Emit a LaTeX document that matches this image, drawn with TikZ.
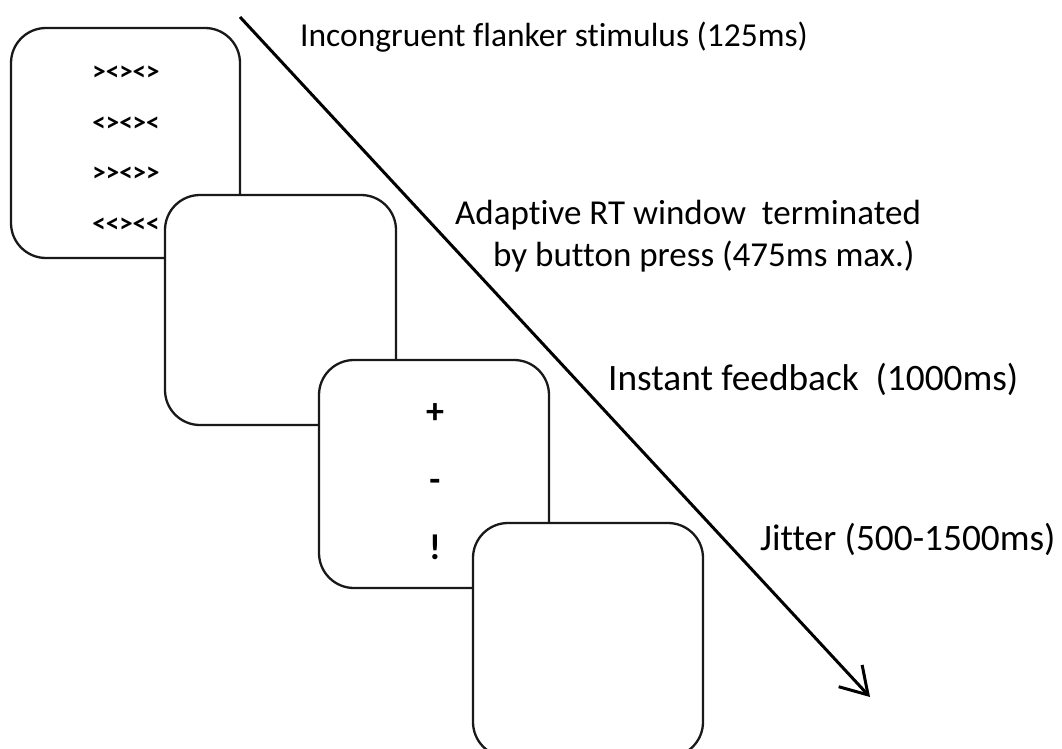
\documentclass[tikz,border=0pt]{standalone}
\usepackage{fontspec}
\setmainfont{Carlito}[Ligatures=NoCommon]
\newfontfamily\symfont{Carlito}[Ligatures={TeXOff,NoCommon}]
\usetikzlibrary{arrows.meta}
\begin{document}
\begin{tikzpicture}[x=1pt,y=-1pt,
  screen/.style={draw=black!90, line width=2.3pt, fill=white, rounded corners=35pt},
  timeline/.style={draw=black, line width=3pt, -{Straight Barb[length=26pt,width=32pt,line width=3pt]}},
  phase/.style={anchor=base west, inner sep=0pt, font=\fontsize{33.5}{40}\selectfont},
  phasemid/.style={phase, font=\fontsize{35}{42}\selectfont},
  phasebig/.style={phase, font=\fontsize{37.3}{44}\selectfont},
  flank/.style={inner sep=0pt, font=\symfont\bfseries\fontsize{27}{30}\selectfont},
  fb/.style={inner sep=0pt, font=\symfont\bfseries\fontsize{36}{40}\selectfont}]
\useasboundingbox (0,0) rectangle (1062,749);

% time axis
\coordinate (tstart) at (240,17);
\coordinate (tend) at (870,697);
\draw[timeline] (tstart) -- (tend);

% stimulus screens, each one stacked on top of the previous one
\draw[screen] (11,28) rectangle (240,258);
\node[flank] (f1) at (126,73) {><><>};
\node[flank] (f2) at (126,124) {<><><};
\node[flank] (f3) at (126,174) {>><>>};
\node[flank] (f4) at (126,225) {<<><<};

\draw[screen] (165,195) rectangle (396,425);

\draw[screen] (319,360) rectangle (549,588);
\node[fb] (plus) at (435,414) {+};
\node[fb] (minus) at (435,485) {-};
\node[fb] (excl) at (435,547) {!};

\draw[screen] (473,523) rectangle (703,757);

% phase labels
\node[phase] (l1) at (300,47) {Incongruent flanker stimulus (125ms)};
\node[phasemid] (l2a) at (455,224) {Adaptive RT window\ \ terminated};
\node[phasemid] (l2b) at (493,266) {by button press (475ms max.)};
\node[phasebig] (l3) at (608,390) {Instant feedback\ \ (1000ms)};
\node[phasebig] (l4) at (760,550) {Jitter (500-1500ms)};
\end{tikzpicture}
\end{document}
